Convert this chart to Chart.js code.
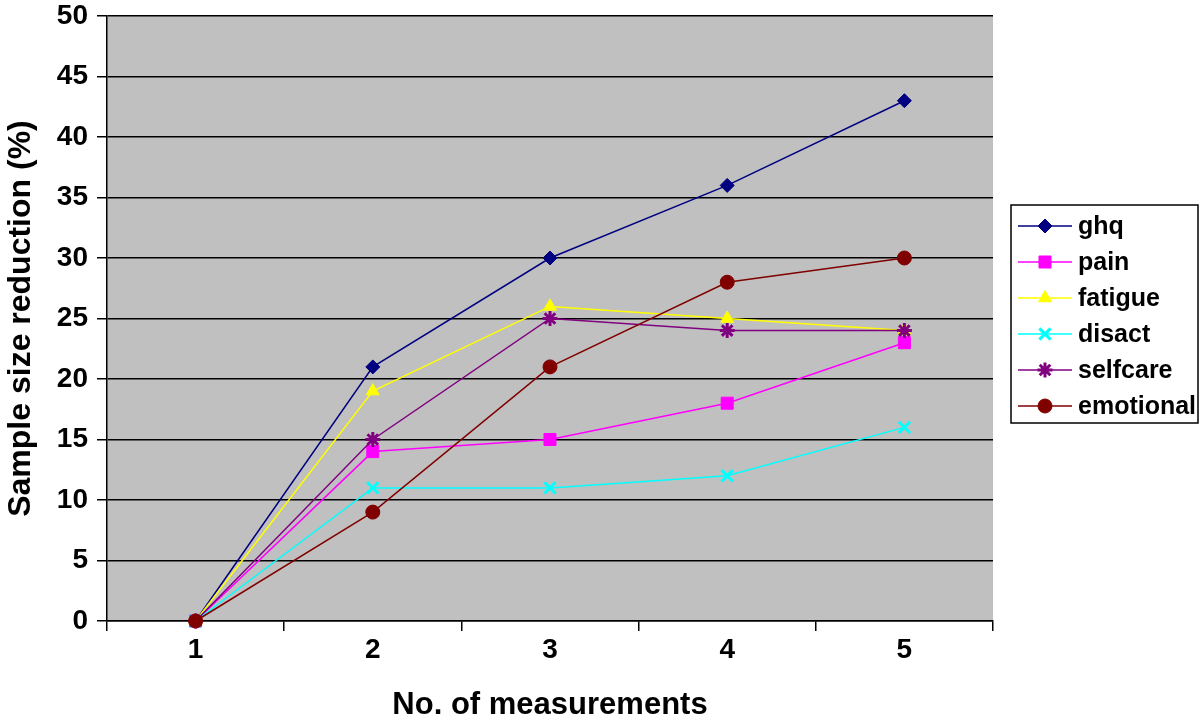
<!DOCTYPE html>
<html lang="en">
<head>
    <meta charset="UTF-8">
    <title>Sample size reduction</title>
    <script src="https://cdn.jsdelivr.net/npm/chart.js"></script>
    <style>
        body { margin: 0; background: #fff; }
        #wrap { width: 1200px; height: 724px; }
    </style>
</head>
<body>
    <div id="wrap"><canvas id="chart" width="1200" height="724"></canvas></div>
    <script>
        const measurements = ['1', '2', '3', '4', '5'];
        const ghq = [0, 21, 30, 36, 43];
        const pain = [0, 14, 15, 18, 23];
        const fatigue = [0, 19, 26, 25, 24];
        const disact = [0, 11, 11, 12, 16];
        const selfcare = [0, 15, 25, 24, 24];
        const emotional = [0, 9, 21, 28, 30];

        const FONT = '"Liberation Sans", Arial, sans-serif';

        const series = [
            { label: 'ghq', data: ghq, color: '#000080', style: 'rectRot', radius: 7 },
            { label: 'pain', data: pain, color: '#FF00FF', style: 'rect', radius: 8.5 },
            { label: 'fatigue', data: fatigue, color: '#FFFF00', style: 'triangle', radius: 7.5 },
            { label: 'disact', data: disact, color: '#00FFFF', style: 'crossRot', radius: 8 },
            { label: 'selfcare', data: selfcare, color: '#800080', style: 'star', radius: 7.5 },
            { label: 'emotional', data: emotional, color: '#800000', style: 'circle', radius: 7 }
        ];

        // gray plot area like the old spreadsheet chart
        const plotBg = {
            id: 'plotBg',
            beforeDraw(chart) {
                const a = chart.chartArea, ctx = chart.ctx;
                ctx.save();
                ctx.fillStyle = '#C0C0C0';
                ctx.fillRect(a.left, a.top, a.right - a.left, a.bottom - a.top);
                ctx.restore();
            }
        };

        // boxed legend with line + marker samples
        const boxLegend = {
            id: 'boxLegend',
            afterDraw(chart) {
                const ctx = chart.ctx;
                const x0 = 1011, y0 = 205, w = 187, h = 218, step = 36;
                ctx.save();
                ctx.strokeStyle = '#000';
                ctx.lineWidth = 1.5;
                ctx.strokeRect(x0, y0, w, h);
                ctx.font = 'bold 25px ' + FONT;
                ctx.textBaseline = 'middle';
                chart.data.datasets.forEach((ds, i) => {
                    const y = y0 + 21 + i * step;
                    ctx.strokeStyle = ds.borderColor;
                    ctx.lineWidth = 1.5;
                    ctx.beginPath();
                    ctx.moveTo(x0 + 7, y);
                    ctx.lineTo(x0 + 61, y);
                    ctx.stroke();
                    ctx.fillStyle = ds.pointBackgroundColor;
                    ctx.strokeStyle = ds.pointBorderColor;
                    ctx.lineWidth = ds.pointBorderWidth;
                    Chart.helpers.drawPoint(ctx, {
                        pointStyle: ds.pointStyle,
                        radius: ds.pointRadius,
                        rotation: 0,
                        borderWidth: ds.pointBorderWidth
                    }, x0 + 34, y);
                    ctx.fillStyle = '#000';
                    ctx.fillText(ds.label, x0 + 67, y + 1);
                });
                ctx.restore();
            }
        };

        const ctx = document.getElementById('chart').getContext('2d');
        new Chart(ctx, {
            type: 'line',
            data: {
                labels: measurements,
                datasets: series.map((s, i) => ({
                    label: s.label,
                    data: s.data,
                    borderColor: s.color,
                    backgroundColor: s.color,
                    borderWidth: 1.5,
                    pointStyle: s.style,
                    pointRadius: s.radius,
                    pointHoverRadius: s.radius,
                    pointBackgroundColor: s.color,
                    pointBorderColor: s.color,
                    pointBorderWidth: (s.style === 'crossRot' || s.style === 'star') ? 3 : 1,
                    tension: 0,
                    fill: false,
                    clip: false,
                    order: series.length - i
                }))
            },
            options: {
                responsive: false,
                animation: false,
                events: [],
                layout: { padding: { top: 0, right: 207, left: 0, bottom: 0 } },
                plugins: {
                    legend: { display: false },
                    tooltip: { enabled: false }
                },
                scales: {
                    x: {
                        offset: true,
                        grid: {
                            offset: true,
                            drawOnChartArea: false,
                            drawTicks: true,
                            tickLength: 10,
                            color: '#000',
                            lineWidth: 1.5
                        },
                        border: { color: '#000', width: 1.5 },
                        ticks: {
                            color: '#000',
                            padding: 2,
                            maxRotation: 0,
                            font: { family: FONT, size: 28, weight: 'bold' }
                        },
                        title: {
                            display: true,
                            text: 'No. of measurements',
                            color: '#000',
                            padding: { top: 20, bottom: 0 },
                            font: { family: FONT, size: 31, weight: 'bold' }
                        },
                        afterFit(scale) { scale.height = 103; }
                    },
                    y: {
                        min: 0,
                        max: 50,
                        ticks: {
                            stepSize: 5,
                            color: '#000',
                            padding: 9,
                            font: { family: FONT, size: 28, weight: 'bold', lineHeight: 0.5 }
                        },
                        grid: {
                            color: '#000',
                            lineWidth: 1.5,
                            drawTicks: true,
                            tickLength: 10
                        },
                        border: { color: '#000', width: 1.5 },
                        title: {
                            display: true,
                            text: 'Sample size reduction (%)',
                            color: '#000',
                            padding: { top: 2, bottom: 0 },
                            font: { family: FONT, size: 32, weight: 'bold' }
                        },
                        afterFit(scale) { scale.width = 107; }
                    }
                }
            },
            plugins: [plotBg, boxLegend]
        });
    </script>
</body>
</html>
